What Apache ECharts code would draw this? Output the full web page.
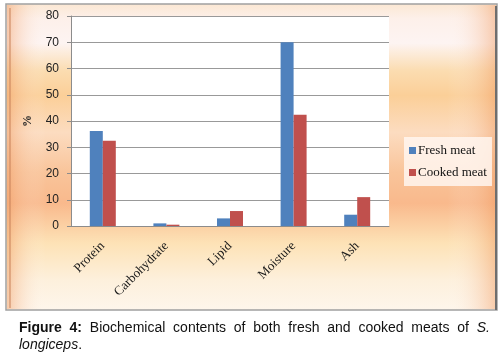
<!DOCTYPE html>
<html>
<head>
<meta charset="utf-8">
<script src="https://cdn.jsdelivr.net/npm/echarts@6/dist/echarts.min.js"></script>
<style>
  html, body { margin: 0; padding: 0; background: #fff; }
  #wrap { position: relative; width: 503px; height: 359px; }
  #chart { position: absolute; left: 0; top: 0; width: 503px; height: 359px; }
  #caption {
    position: absolute; left: 19px; top: 319px; width: 471px;
    font-family: "Liberation Sans", Arial, sans-serif; font-size: 14px;
    line-height: 17px; color: #111; text-align: justify;
  }
</style>
</head>
<body>
<div id="wrap">
  <div id="chart"></div>
  <div id="caption"><b>Figure 4:</b> Biochemical contents of both fresh and cooked meats of <i>S. longiceps</i>.</div>
</div>
<script>
// data
var categories = ['Protein', 'Carbohydrate', 'Lipid', 'Moisture', 'Ash'];
var freshMeat = [36.2, 1.0, 2.9, 70.0, 4.3];
var cookedMeat = [32.5, 0.5, 5.7, 42.4, 11.0];
var yTicks = { min: 0, max: 80, interval: 10 };

var myChart = echarts.init(document.getElementById('chart'));
var serif = '"Liberation Serif", "DejaVu Serif", serif';

var option = {
  animation: false,
  graphic: [
    {
      type: 'rect', z: -10, silent: true,
      shape: { x: 6, y: 4, width: 491, height: 306 },
      style: {
        fill: {
          type: 'linear', x: 0, y: 0, x2: 0, y2: 1,
          colorStops: [
            { offset: 0, color: '#fbe7d2' },
            { offset: 0.05, color: '#fdf0ea' },
            { offset: 0.13, color: '#fdf4f2' },
            { offset: 0.22, color: '#fbdcb0' },
            { offset: 0.3, color: '#fbcf98' },
            { offset: 0.42, color: '#fcdcc0' },
            { offset: 0.55, color: '#f9c49a' },
            { offset: 0.65, color: '#f9b98c' },
            { offset: 0.78, color: '#fde2b6' },
            { offset: 0.9, color: '#fdf0dc' },
            { offset: 1, color: '#fef6ec' }
          ]
        },
        stroke: '#a0a0a0', lineWidth: 1.5
      }
    },
    {
      type: 'rect', z: -9, silent: true,
      shape: { x: 7, y: 5, width: 489, height: 304 },
      style: {
        fill: {
          type: 'linear', x: 0, y: 0, x2: 1, y2: 0,
          colorStops: [
            { offset: 0, color: 'rgba(240,150,90,0.45)' },
            { offset: 0.08, color: 'rgba(255,255,255,0)' },
            { offset: 0.9, color: 'rgba(255,255,255,0)' },
            { offset: 1, color: 'rgba(240,150,90,0.45)' }
          ]
        }
      }
    },
    {
      type: 'line', z: -8, silent: true,
      shape: { x1: 496, y1: 6, x2: 496, y2: 310 },
      style: { stroke: '#6e6e6e', lineWidth: 2 }
    },
    {
      type: 'line', z: -8, silent: true,
      shape: { x1: 10, y1: 8, x2: 10, y2: 308 },
      style: { stroke: 'rgba(200,130,90,0.5)', lineWidth: 2 }
    },
    {
      type: 'rect', z: -7, silent: true,
      shape: { x: 71, y: 16, width: 318, height: 210 },
      style: { fill: '#ffffff' }
    }
  ],
  grid: { left: 71, right: 114, top: 16, bottom: 133 },
  legend: {
    orient: 'vertical',
    left: 404, top: 137,
    itemWidth: 7, itemHeight: 7, itemGap: 9,
    padding: [7, 5, 7, 5],
    backgroundColor: 'rgba(255,246,240,0.85)',
    icon: 'rect',
    textStyle: { fontFamily: serif, fontSize: 13, color: '#111', padding: [0, 0, 0, -3] },
    data: ['Fresh meat', 'Cooked meat']
  },
  xAxis: {
    type: 'category',
    data: categories,
    axisLine: { lineStyle: { color: '#8c8c8c' } },
    axisTick: { show: false },
    axisLabel: { rotate: 45, margin: 18, fontFamily: serif, fontSize: 13, color: '#1a1a1a', interval: 0 }
  },
  yAxis: {
    type: 'value',
    min: yTicks.min, max: yTicks.max, interval: yTicks.interval,
    name: '%', nameLocation: 'middle', nameGap: 37, nameRotate: 90,
    nameTextStyle: { fontFamily: serif, fontSize: 12, fontWeight: 'bold', color: '#222' },
    axisLine: { show: true, lineStyle: { color: '#8c8c8c' } },
    axisTick: { show: true, length: 4, lineStyle: { color: '#8c8c8c' } },
    axisLabel: { fontFamily: '"Liberation Sans", Arial, sans-serif', fontSize: 12, color: '#222', margin: 12 },
    splitLine: { lineStyle: { color: '#999999' } }
  },
  series: [
    {
      name: 'Fresh meat', type: 'bar', data: freshMeat,
      barWidth: 13, barGap: '0%',
      itemStyle: { color: '#4f81bd' }
    },
    {
      name: 'Cooked meat', type: 'bar', data: cookedMeat,
      barWidth: 13, barGap: '0%',
      itemStyle: { color: '#c0504d' }
    }
  ]
};
myChart.setOption(option);
</script>
</body>
</html>
